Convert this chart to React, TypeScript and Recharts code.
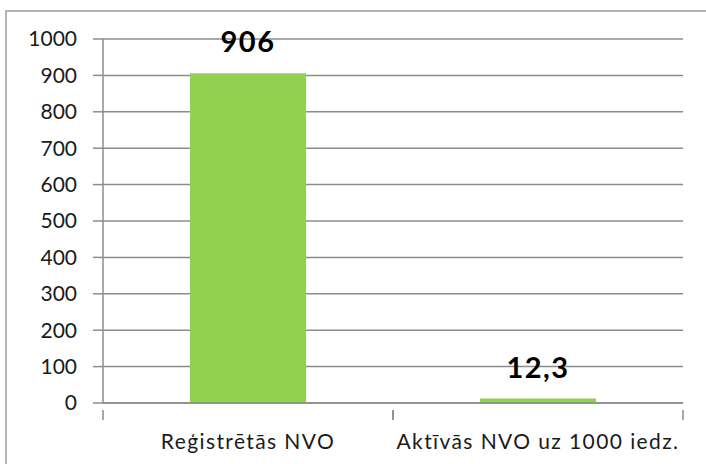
import React from "react";
import { BarChart, Bar, XAxis, YAxis, CartesianGrid, LabelList } from "recharts";

const categories = ["Reģistrētās NVO", "Aktīvās NVO uz 1000 iedz."];
const values = [906, 12.3];
const yTicks = [0, 100, 200, 300, 400, 500, 600, 700, 800, 900, 1000];

const data = categories.map((name, i) => ({ name, value: values[i] }));

const FONT = "Lato, 'Open Sans', sans-serif";
const GRID = "#8c8c8c";

const CatTick = (props: any) => {
  const { x, y, payload } = props;
  const off = payload.offset || 0;
  return (
    <g>
      <line x1={x - off} x2={x - off} y1={y - 1} y2={y + 9} stroke={GRID} strokeWidth={1.5} />
      <line x1={x + off} x2={x + off} y1={y - 1} y2={y + 9} stroke={GRID} strokeWidth={1.5} />
      <text x={x} y={y + 38} textAnchor="middle" fontFamily={FONT} fontSize={21} letterSpacing={1.4} fill="#1a1a1a">
        {payload.value}
      </text>
    </g>
  );
};

export default function App() {
  return (
    <div style={{ position: "fixed", left: 0, top: 0, width: 706, height: 464, overflow: "hidden", background: "#fff" }}>
      <div
        style={{
          position: "absolute",
          left: 5,
          top: 10,
          width: 760,
          height: 520,
          border: "2px solid #b4b4b4",
          boxSizing: "border-box",
        }}
      />
      <div style={{ position: "absolute", left: 0, top: 0 }}>
        <BarChart
          width={706}
          height={464}
          data={data}
          margin={{ top: 39, right: 23, bottom: 0, left: 33 }}
          barCategoryGap="30%"
        >
          <CartesianGrid vertical={false} stroke={GRID} strokeWidth={1.5} />
          <XAxis
            dataKey="name"
            axisLine={{ stroke: GRID, strokeWidth: 1.5 }}
            tickLine={false}
            tick={<CatTick />}
            interval={0}
            height={61}
          />
          <YAxis
            domain={[0, 1000]}
            ticks={yTicks}
            width={70}
            axisLine={{ stroke: GRID, strokeWidth: 1.5 }}
            tickLine={{ stroke: GRID, strokeWidth: 1.5 }}
            tickSize={10}
            tickMargin={16}
            tick={{ fontFamily: FONT, fontSize: 21, fill: "#1a1a1a" }}
          />
          <Bar dataKey="value" fill="#92D050" isAnimationActive={false}>
            <LabelList
              dataKey="value"
              position="top"
              offset={21}
              formatter={(v: any) => String(v).replace(".", ",")}
              style={{ fontFamily: FONT, fontSize: 29, fontWeight: 700, fill: "#000", letterSpacing: 1.5 }}
            />
          </Bar>
        </BarChart>
      </div>
    </div>
  );
}
